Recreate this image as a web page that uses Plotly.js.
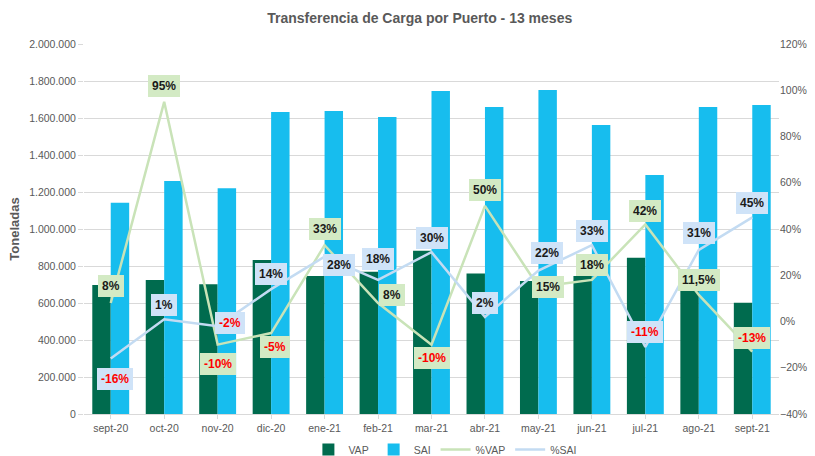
<!DOCTYPE html>
<html>
<head>
<meta charset="utf-8">
<script src="https://cdn.plot.ly/plotly-3.0.1.min.js"></script>
<style>html,body{margin:0;padding:0;background:#fff;}#chart{width:815px;height:456px;}</style>
</head>
<body>
<div id="chart"></div>
<script>
// ---- data ----
var months = ['sept-20','oct-20','nov-20','dic-20','ene-21','feb-21','mar-21','abr-21','may-21','jun-21','jul-21','ago-21','sept-21'];
var vap = [697000, 724000, 701000, 832000, 746000, 769000, 883000, 760000, 719000, 746000, 845000, 720000, 602000];
var sai = [1142000, 1259000, 1220000, 1632000, 1638000, 1605000, 1746000, 1659000, 1751000, 1562000, 1292000, 1659000, 1670000];
var pctVap = [8, 95, -10, -5, 33, 8, -10, 50, 15, 18, 42, 11.5, -13];
var pctSai = [-16, 1, -2, 14, 28, 18, 30, 2, 22, 33, -11, 31, 45];

// ---- label placement (pixels, relative to point) ----
var vapShift = [[0,17],[0,16],[0,-19],[4,-14],[0,16],[14,8],[0,-13],[0,16],[10,0],[0,15],[0,13],[0,15],[0,14]];
var saiShift = [[4,-20],[0,14],[12,3],[0,15],[14,-8],[0,21],[0,14],[0,14],[9,18],[0,14],[0,15],[0,17],[0,14]];

var FONT = 'Liberation Sans Narrow, Liberation Sans, Arial, sans-serif';
function fmt(v){ return String(v).replace('.', ',') + '%'; }

var traces = [
  {type:'bar', name:'VAP', x:months, y:vap, marker:{color:'#006B4E'}, yaxis:'y'},
  {type:'bar', name:'SAI', x:months, y:sai, marker:{color:'#17BDEE'}, yaxis:'y'},
  {type:'scatter', mode:'lines', name:'%VAP', x:months, y:pctVap, yaxis:'y2', line:{color:'#C9E3B8', width:2.5}},
  {type:'scatter', mode:'lines', name:'%SAI', x:months, y:pctSai, yaxis:'y2', line:{color:'#C3DBF2', width:2.5}}
];

var annotations = [];
function addLabels(vals, shifts, bg){
  for (var i = 0; i < vals.length; i++){
    annotations.push({
      x: months[i], y: vals[i], xref:'x', yref:'y2', showarrow:false,
      xshift: shifts[i][0], yshift: shifts[i][1],
      text: '<b>' + fmt(vals[i]) + '</b>',
      font:{family:FONT, size:12, color: vals[i] < 0 ? '#FF0000' : '#1A1A1A'},
      bgcolor: bg, bordercolor: bg, borderwidth:1, borderpad:3
    });
  }
}
addLabels(pctVap, vapShift, '#D3EAC4');
addLabels(pctSai, saiShift, '#CFE3F8');

var layout = {
  width:815, height:456,
  margin:{l:84, r:36, t:44, b:42, autoexpand:false},
  paper_bgcolor:'#fff', plot_bgcolor:'#fff',
  separators:',.',
  font:{family:FONT, size:10.5, color:'#595959'},
  title:{text:'<b>Transferencia de Carga por Puerto - 13 meses</b>', x:0.515, xanchor:'center', y:0.96, yanchor:'middle', font:{family:FONT, size:14, color:'#595959'}},
  barmode:'group', bargap:0.31, bargroupgap:0,
  xaxis:{type:'category', showgrid:false, zeroline:false, showline:true, linecolor:'#D9D9D9', ticks:'outside', ticklen:4, tickcolor:'#D9D9D9', tickfont:{family:FONT, size:10.5, color:'#595959'}},
  yaxis:{range:[0,2000000], dtick:200000, tickformat:',d', showgrid:true, gridcolor:'#D9D9D9', zeroline:false, showline:false, ticks:'outside', ticklen:5, tickcolor:'#D9D9D9', tickfont:{family:FONT, size:10.5, color:'#595959'},
         title:{text:'<b>Toneladas</b>', font:{family:FONT, size:13, color:'#595959'}, standoff:6}},
  yaxis2:{range:[-40,120], dtick:20, ticksuffix:'%', overlaying:'y', side:'right', showgrid:false, zeroline:false, showline:false, ticks:'', tickfont:{family:FONT, size:10.5, color:'#595959'}},
  legend:{orientation:'h', x:0.52, xanchor:'center', y:-0.057, yanchor:'top', font:{family:FONT, size:10.5, color:'#595959'}, traceorder:'normal', tracegroupgap:0, itemwidth:30},
  showlegend:true,
  annotations:annotations
};

Plotly.newPlot('chart', traces, layout, {staticPlot:true});
</script>
</body>
</html>
